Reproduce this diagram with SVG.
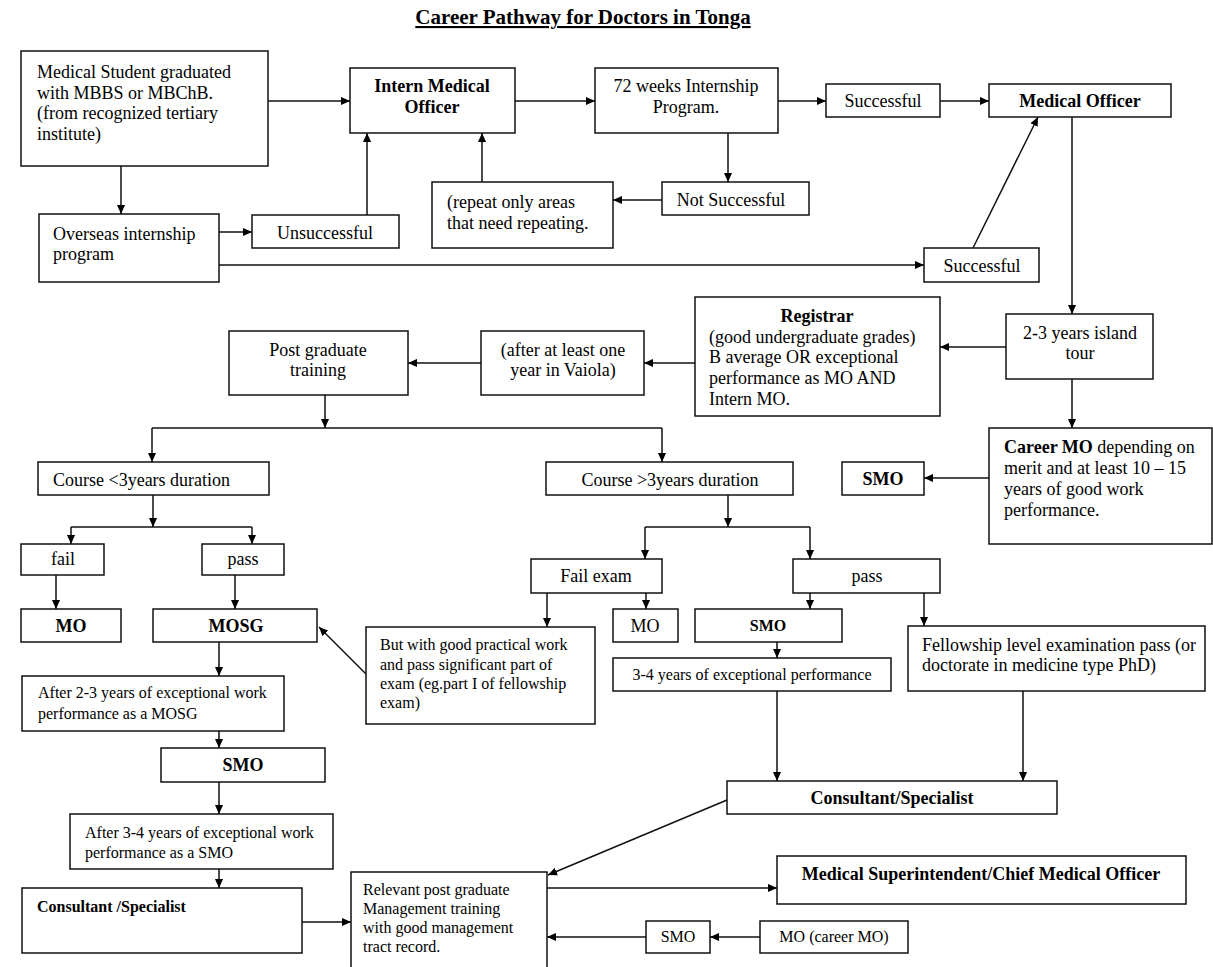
<svg xmlns="http://www.w3.org/2000/svg" width="1213" height="967" viewBox="0 0 1213 967">
<style>
.b{fill:#fff;stroke:#111;stroke-width:1.5}
.t{font-family:'Liberation Serif','Times New Roman',serif;font-size:18px;fill:#000}
.s{font-size:16px}
.bd{font-weight:bold}
.m{text-anchor:middle}
.c{stroke:#111;stroke-width:1.5;fill:none}
.a{marker-end:url(#ah)}
</style>
<defs>
<marker id="ah" viewBox="0 0 10 10" refX="10" refY="5" markerWidth="9" markerHeight="9" markerUnits="userSpaceOnUse" orient="auto"><path d="M0,0.5 L10,5 L0,9.5 z" fill="#000"/></marker>
</defs>
<rect width="1213" height="967" fill="#fff"/>
<text class="t bd m" x="583" y="24" font-size="21" style="font-size:21px" text-decoration="underline">Career Pathway for Doctors in Tonga</text>

<g id="connectors">
<line class="c a" x1="268" y1="101" x2="350" y2="101"/>
<line class="c a" x1="515" y1="101" x2="595" y2="101"/>
<line class="c a" x1="778" y1="101" x2="826" y2="101"/>
<line class="c a" x1="940" y1="101" x2="989" y2="101"/>
<line class="c a" x1="121" y1="166" x2="121" y2="214"/>
<line class="c a" x1="219" y1="232" x2="252" y2="232"/>
<line class="c a" x1="367" y1="215" x2="367" y2="133"/>
<line class="c a" x1="482" y1="182" x2="482" y2="133"/>
<line class="c a" x1="728" y1="133" x2="728" y2="182"/>
<line class="c a" x1="662" y1="200" x2="613" y2="200"/>
<line class="c a" x1="219" y1="265" x2="924" y2="265"/>
<line class="c a" x1="973" y1="248" x2="1038" y2="117"/>
<line class="c a" x1="1072" y1="117" x2="1072" y2="314"/>
<line class="c a" x1="1006" y1="347" x2="940" y2="347"/>
<line class="c a" x1="695" y1="363" x2="644" y2="363"/>
<line class="c a" x1="481" y1="363" x2="408" y2="363"/>
<line class="c a" x1="325" y1="395" x2="325" y2="428"/>
<path class="c" d="M152,428 H662"/>
<line class="c a" x1="152" y1="428" x2="152" y2="462"/>
<line class="c a" x1="662" y1="428" x2="662" y2="462"/>
<line class="c a" x1="153" y1="495" x2="153" y2="527"/>
<path class="c" d="M71,527 H252"/>
<line class="c a" x1="71" y1="527" x2="71" y2="544"/>
<line class="c a" x1="252" y1="527" x2="252" y2="544"/>
<line class="c a" x1="728" y1="495" x2="728" y2="527"/>
<path class="c" d="M645,527 H810"/>
<line class="c a" x1="645" y1="527" x2="645" y2="559"/>
<line class="c a" x1="810" y1="527" x2="810" y2="559"/>
<line class="c a" x1="1072" y1="379" x2="1072" y2="428"/>
<line class="c a" x1="989" y1="478" x2="924" y2="478"/>
<line class="c a" x1="56" y1="575" x2="56" y2="609"/>
<line class="c a" x1="235" y1="575" x2="235" y2="609"/>
<line class="c a" x1="366" y1="674" x2="319" y2="627"/>
<line class="c a" x1="547" y1="593" x2="547" y2="627"/>
<line class="c a" x1="646" y1="593" x2="646" y2="609"/>
<line class="c a" x1="810" y1="593" x2="810" y2="609"/>
<line class="c a" x1="924" y1="593" x2="924" y2="626"/>
<line class="c a" x1="777" y1="642" x2="777" y2="658"/>
<line class="c a" x1="219" y1="642" x2="219" y2="676"/>
<line class="c a" x1="219" y1="731" x2="219" y2="748"/>
<line class="c a" x1="219" y1="782" x2="219" y2="814"/>
<line class="c a" x1="219" y1="869" x2="219" y2="888"/>
<line class="c a" x1="302" y1="922" x2="351" y2="922"/>
<line class="c a" x1="777" y1="691" x2="777" y2="781"/>
<line class="c a" x1="1023" y1="691" x2="1023" y2="781"/>
<line class="c a" x1="727" y1="800" x2="548" y2="875"/>
<line class="c a" x1="547" y1="888" x2="777" y2="888"/>
<line class="c a" x1="760" y1="937" x2="710" y2="937"/>
<line class="c a" x1="646" y1="937" x2="547" y2="937"/>
</g>

<g id="n_student"><rect class="b" x="21" y="51" width="247" height="115"/>
<text class="t" x="37" y="78">Medical Student graduated</text>
<text class="t" x="37" y="99">with MBBS or MBChB.</text>
<text class="t" x="37" y="119">(from recognized tertiary</text>
<text class="t" x="37" y="140">institute)</text></g>

<g id="n_intern"><rect class="b" x="350" y="68" width="165" height="65"/>
<text class="t bd m" x="432" y="92">Intern Medical</text>
<text class="t bd m" x="432" y="113">Officer</text></g>

<g id="n_72weeks"><rect class="b" x="595" y="68" width="183" height="65"/>
<text class="t m" x="686" y="92">72 weeks Internship</text>
<text class="t m" x="686" y="113">Program.</text></g>

<g id="n_successful1"><rect class="b" x="826" y="84" width="114" height="33"/>
<text class="t m" x="883" y="107">Successful</text></g>

<g id="n_medofficer"><rect class="b" x="989" y="84" width="182" height="33"/>
<text class="t bd m" x="1080" y="107">Medical Officer</text></g>

<g id="n_overseas"><rect class="b" x="39" y="214" width="180" height="68"/>
<text class="t" x="53" y="240">Overseas internship</text>
<text class="t" x="53" y="260">program</text></g>

<g id="n_unsuccessful"><rect class="b" x="252" y="215" width="147" height="33"/>
<text class="t m" x="325" y="239">Unsuccessful</text></g>

<g id="n_repeat"><rect class="b" x="432" y="182" width="181" height="66"/>
<text class="t" x="447" y="208">(repeat only areas</text>
<text class="t" x="447" y="229">that need repeating.</text></g>

<g id="n_notsuccessful"><rect class="b" x="662" y="182" width="147" height="33"/>
<text class="t m" x="731" y="206">Not Successful</text></g>

<g id="n_successful2"><rect class="b" x="924" y="248" width="115" height="34"/>
<text class="t m" x="982" y="272">Successful</text></g>

<g id="n_tour"><rect class="b" x="1006" y="314" width="147" height="65"/>
<text class="t m" x="1080" y="339">2-3 years island</text>
<text class="t m" x="1080" y="359">tour</text></g>

<g id="n_registrar"><rect class="b" x="695" y="297" width="245" height="119"/>
<text class="t bd m" x="817" y="322">Registrar</text>
<text class="t" x="709" y="343">(good undergraduate grades)</text>
<text class="t" x="709" y="363">B average OR exceptional</text>
<text class="t" x="709" y="384">performance as MO AND</text>
<text class="t" x="709" y="405">Intern MO.</text></g>

<g id="n_after"><rect class="b" x="481" y="331" width="163" height="64"/>
<text class="t m" x="563" y="356">(after at least one</text>
<text class="t m" x="563" y="376">year in Vaiola)</text></g>

<g id="n_postgrad"><rect class="b" x="229" y="331" width="179" height="64"/>
<text class="t m" x="318" y="356">Post graduate</text>
<text class="t m" x="318" y="376">training</text></g>

<g id="n_course_less"><rect class="b" x="38" y="462" width="231" height="33"/>
<text class="t" x="53" y="486">Course &lt;3years duration</text></g>

<g id="n_course_more"><rect class="b" x="546" y="462" width="247" height="33"/>
<text class="t m" x="670" y="486">Course &gt;3years duration</text></g>

<g id="n_careermo"><rect class="b" x="989" y="428" width="223" height="116"/>
<text class="t" x="1004" y="453"><tspan class="bd">Career MO</tspan> depending on</text>
<text class="t" x="1004" y="474">merit and at least 10 – 15</text>
<text class="t" x="1004" y="495">years of good work</text>
<text class="t" x="1004" y="516">performance.</text></g>

<g id="n_smo_right"><rect class="b" x="842" y="462" width="82" height="33"/>
<text class="t bd m" x="883" y="485">SMO</text></g>

<g id="n_fail"><rect class="b" x="21" y="544" width="83" height="31"/>
<text class="t m" x="63" y="565">fail</text></g>

<g id="n_pass"><rect class="b" x="202" y="544" width="82" height="31"/>
<text class="t m" x="243" y="565">pass</text></g>

<g id="n_mo_left"><rect class="b" x="21" y="609" width="100" height="33"/>
<text class="t bd m" x="71" y="632">MO</text></g>

<g id="n_mosg"><rect class="b" x="153" y="609" width="164" height="33"/>
<text class="t bd m" x="236" y="632">MOSG</text></g>

<g id="n_after23"><rect class="b" x="22" y="676" width="262" height="55"/>
<text class="t s" x="38" y="698">After 2-3 years of exceptional work</text>
<text class="t s" x="38" y="719">performance as a MOSG</text></g>

<g id="n_smo_left"><rect class="b" x="161" y="748" width="164" height="34"/>
<text class="t bd m" x="243" y="771">SMO</text></g>

<g id="n_after34"><rect class="b" x="70" y="814" width="263" height="55"/>
<text class="t s" x="85" y="838">After 3-4 years of exceptional work</text>
<text class="t s" x="85" y="858">performance as a SMO</text></g>

<g id="n_consultant_left"><rect class="b" x="22" y="888" width="280" height="65"/>
<text class="t s bd" x="37" y="912">Consultant /Specialist</text></g>

<g id="n_relevant"><rect class="b" x="351" y="872" width="196" height="97"/>
<text class="t s" x="363" y="895">Relevant post graduate</text>
<text class="t s" x="363" y="914">Management training</text>
<text class="t s" x="363" y="933">with good management</text>
<text class="t s" x="363" y="952">tract record.</text></g>

<g id="n_butwith"><rect class="b" x="366" y="627" width="229" height="97"/>
<text class="t s" x="380" y="650">But with good practical work</text>
<text class="t s" x="380" y="670">and pass significant part of</text>
<text class="t s" x="380" y="689">exam (eg.part I of fellowship</text>
<text class="t s" x="380" y="708">exam)</text></g>

<g id="n_failexam"><rect class="b" x="531" y="559" width="131" height="34"/>
<text class="t m" x="596" y="582">Fail exam</text></g>

<g id="n_pass2"><rect class="b" x="793" y="559" width="147" height="34"/>
<text class="t m" x="867" y="582">pass</text></g>

<g id="n_mo_mid"><rect class="b" x="613" y="609" width="65" height="33"/>
<text class="t m" x="645" y="632">MO</text></g>

<g id="n_smo_mid"><rect class="b" x="695" y="609" width="147" height="33"/>
<text class="t s bd m" x="768" y="631">SMO</text></g>

<g id="n_34years"><rect class="b" x="613" y="658" width="278" height="33"/>
<text class="t s m" x="752" y="680">3-4 years of exceptional performance</text></g>

<g id="n_fellowship"><rect class="b" x="908" y="626" width="297" height="65"/>
<text class="t" x="922" y="651">Fellowship level examination pass (or</text>
<text class="t" x="922" y="671">doctorate in medicine type PhD)</text></g>

<g id="n_consultant_right"><rect class="b" x="727" y="781" width="330" height="33"/>
<text class="t bd m" x="892" y="804">Consultant/Specialist</text></g>

<g id="n_supt"><rect class="b" x="777" y="856" width="409" height="48"/>
<text class="t bd m" x="981" y="880">Medical Superintendent/Chief Medical Officer</text></g>

<g id="n_smo_bottom"><rect class="b" x="646" y="921" width="64" height="32"/>
<text class="t s m" x="678" y="942">SMO</text></g>

<g id="n_mo_career"><rect class="b" x="760" y="921" width="148" height="32"/>
<text class="t s m" x="834" y="942">MO (career MO)</text></g>
</svg>
